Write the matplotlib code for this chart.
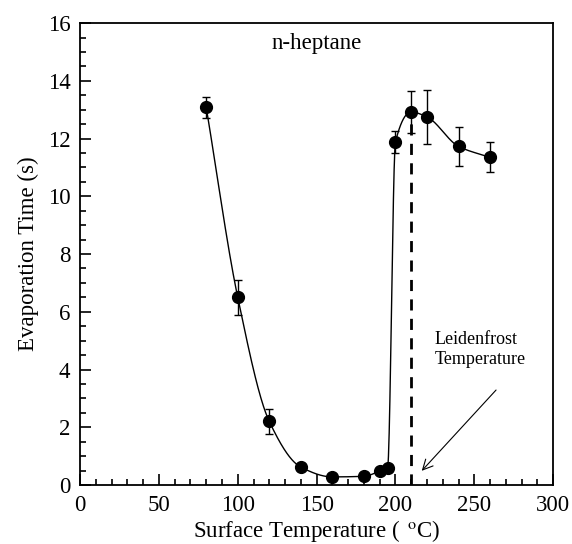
import numpy as np
import matplotlib
matplotlib.use("Agg")
import matplotlib.pyplot as plt
from matplotlib.ticker import MultipleLocator

# datos
temp = [80, 100, 120, 140, 160, 180, 190, 195, 200, 210, 220, 240, 260]
evap_time = [13.08, 6.50, 2.20, 0.62, 0.28, 0.30, 0.48, 0.59, 11.88, 12.92, 12.75, 11.73, 11.35]
evap_err = [0.35, 0.60, 0.42, 0, 0, 0, 0, 0, 0.37, 0.73, 0.95, 0.67, 0.52]
leidenfrost_t = 210


def pchip(x, y, xs):
    """Interpolacion cubica monotona (PCHIP) con numpy."""
    x = np.asarray(x, float)
    y = np.asarray(y, float)
    h = np.diff(x)
    d = np.diff(y) / h
    n = len(x)
    m = np.zeros(n)
    for k in range(1, n - 1):
        if d[k - 1] * d[k] > 0:
            w1 = 2 * h[k] + h[k - 1]
            w2 = h[k] + 2 * h[k - 1]
            m[k] = (w1 + w2) / (w1 / d[k - 1] + w2 / d[k])
    m[0] = d[0]
    m[-1] = d[-1]
    idx = np.clip(np.searchsorted(x, xs) - 1, 0, n - 2)
    t = (xs - x[idx]) / h[idx]
    h00 = 2 * t**3 - 3 * t**2 + 1
    h10 = t**3 - 2 * t**2 + t
    h01 = -2 * t**3 + 3 * t**2
    h11 = t**3 - t**2
    return h00 * y[idx] + h10 * h[idx] * m[idx] + h01 * y[idx + 1] + h11 * h[idx] * m[idx + 1]


plt.rcParams['font.family'] = ['Liberation Serif', 'DejaVu Serif']
plt.rcParams['mathtext.fontset'] = 'stix'

fig = plt.figure(figsize=(5.72, 5.44), dpi=100)
ax = fig.add_axes([0.14, 0.1085, 0.827, 0.849])

xs = np.linspace(temp[0], temp[-1], 800)
ax.plot(xs, pchip(temp, evap_time, xs), color='black', lw=1.0)
ax.errorbar(temp, evap_time, yerr=evap_err, fmt='o', color='black',
            markersize=8.5, capsize=3, elinewidth=1.0, capthick=1.0)

# linea de Leidenfrost
ax.plot([leidenfrost_t, leidenfrost_t], [0, evap_time[temp.index(leidenfrost_t)] - 0.25],
        color='black', lw=2.0, dashes=(4, 3))

ax.text(150, 15.12, 'n-heptane', fontsize=16.5, ha='center', va='baseline')
ax.text(225, 5.35, 'Leidenfrost\nTemperature', fontsize=13, ha='left', va='top',
        linespacing=1.3)
ax.annotate('', xy=(215.5, 0.42), xytext=(265, 3.36),
            arrowprops=dict(arrowstyle='->', color='black', lw=0.8,
                            mutation_scale=18))

ax.set_xlim(0, 300)
ax.set_ylim(0, 16)
ax.xaxis.set_major_locator(MultipleLocator(50))
ax.xaxis.set_minor_locator(MultipleLocator(10))
ax.yaxis.set_major_locator(MultipleLocator(2))
ax.yaxis.set_minor_locator(MultipleLocator(0.5))
ax.tick_params(which='both', direction='in', top=False, right=False, labelsize=16.5,
               width=1.2, pad=7)
ax.tick_params(which='major', length=8)
ax.tick_params(which='minor', length=4.5)
for s in ax.spines.values():
    s.set_linewidth(1.3)

ax.set_xlabel('Surface Temperature ( $\\,^{\\rm o}$C)', fontsize=16.5, labelpad=2)
ax.set_ylabel('Evaporation Time (s)', fontsize=16.5, labelpad=6)

fig.savefig('out.png', dpi=100)
